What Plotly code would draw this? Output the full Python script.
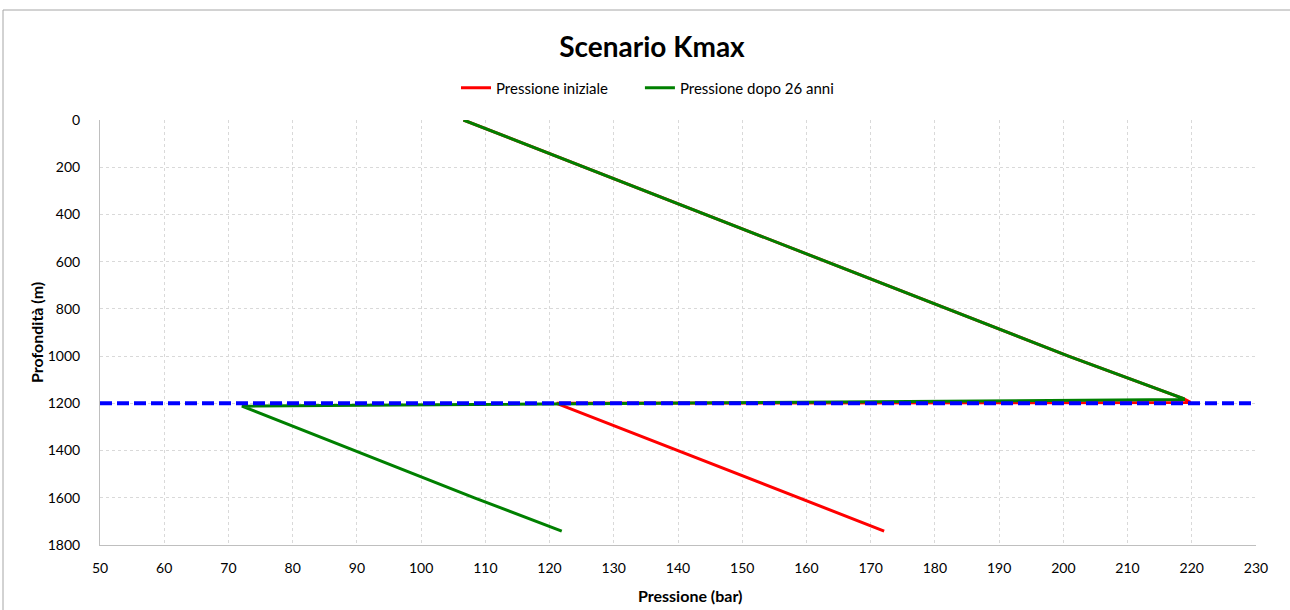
import plotly.graph_objects as go

# Pressure (bar) versus depth (m) profiles
depth_initial = [0, 200, 400, 600, 800, 1000, 1180, 1196, 1200, 1400, 1600, 1741]
pressure_initial = [106.6, 125.4, 144.2, 163.2, 182.1, 200.8, 218.7, 219.8, 121.1, 139.9, 158.6, 172.1]

depth_after = [0, 200, 400, 600, 800, 1000, 1180, 1184, 1212, 1400, 1600, 1741]
pressure_after = [106.6, 125.4, 144.2, 163.2, 182.1, 200.8, 218.7, 218.7, 72.1, 89.6, 108.3, 121.9]

# Reservoir top reference depth
ref_pressure = [50, 230]
ref_depth = [1200, 1200]

x_ticks = list(range(50, 231, 10))
y_ticks = list(range(0, 1801, 200))

FONT = "Lato, 'Open Sans', sans-serif"
PAD = "\u00a0" * 7  # extra room between the two legend entries

fig = go.Figure()
fig.add_trace(go.Scatter(
    x=pressure_initial, y=depth_initial, mode="lines",
    name="Pressione iniziale" + PAD,
    line=dict(color="#FF0000", width=3),
))
fig.add_trace(go.Scatter(
    x=pressure_after, y=depth_after, mode="lines",
    name="Pressione dopo 26 anni",
    line=dict(color="#008000", width=3),
))
fig.add_trace(go.Scatter(
    x=ref_pressure, y=ref_depth, mode="lines",
    showlegend=False,
    line=dict(color="#0000FF", width=4, dash="12px,5px"),
))

fig.update_layout(
    width=1290, height=610,
    margin=dict(l=100, r=34, t=120, b=65),
    paper_bgcolor="white", plot_bgcolor="white",
    font=dict(family=FONT, size=13, color="#000000"),
    title=dict(
        text="<b>Scenario Kmax</b>",
        x=(652 - 100) / 1156, xref="paper", xanchor="center",
        y=1 - 47 / 610, yanchor="middle",
        font=dict(family=FONT, size=28, color="#000000"),
    ),
    legend=dict(
        orientation="h", x=(456 - 100) / 1156, xanchor="left",
        y=1 + 32 / 425, yanchor="middle",
        font=dict(family=FONT, size=15),
        itemwidth=30,
    ),
    showlegend=True,
    shapes=[dict(
        type="rect", xref="paper", yref="paper",
        x0=(3 - 100) / 1156, x1=1.06,
        y0=-0.2, y1=1 + 110 / 425,
        line=dict(color="#A6A6A6", width=1),
        fillcolor="rgba(0,0,0,0)", layer="below",
    )],
    annotations=[
        dict(text="<b>Pressione (bar)</b>", xref="paper", yref="paper",
             x=(690 - 100) / 1156, y=(545 - 595) / 425,
             xanchor="center", yanchor="middle", showarrow=False,
             font=dict(family=FONT, size=16)),
        dict(text="<b>Profondità (m)</b>", xref="paper", yref="paper",
             x=(36 - 100) / 1156, y=(545 - 333) / 425, textangle=-90,
             xanchor="center", yanchor="middle", showarrow=False,
             font=dict(family=FONT, size=16)),
    ],
)

fig.update_xaxes(
    range=[50, 230], tickvals=x_ticks,
    showgrid=True, gridcolor="#D9D9D9", griddash="dot", gridwidth=1,
    showline=True, linecolor="#BFBFBF", linewidth=1,
    zeroline=False, ticks="", ticklabelstandoff=10,
    tickfont=dict(family=FONT, size=14),
)
fig.update_yaxes(
    range=[1800, 0], tickvals=y_ticks,
    showgrid=True, gridcolor="#D9D9D9", griddash="dot", gridwidth=1,
    showline=True, linecolor="#BFBFBF", linewidth=1,
    zeroline=False, ticks="", ticklabelstandoff=16,
    tickfont=dict(family=FONT, size=14),
)

fig.write_html("out.html")
